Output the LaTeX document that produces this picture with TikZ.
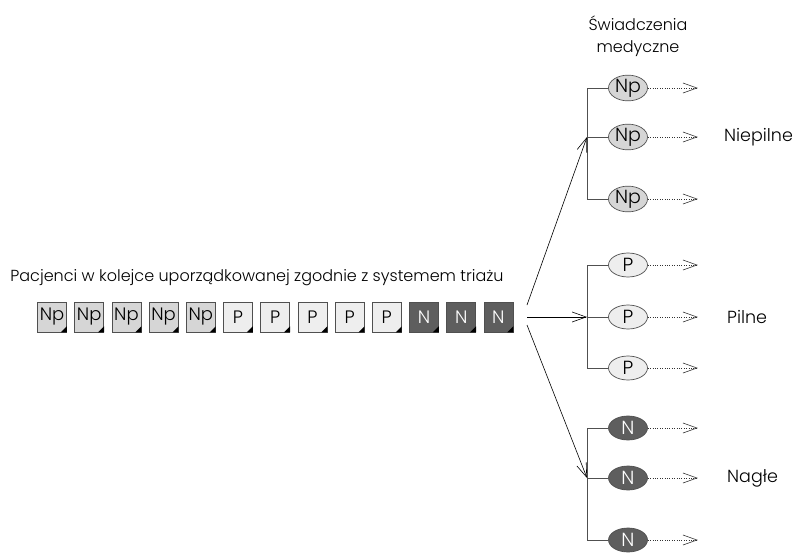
\documentclass[tikz,border=0pt]{standalone}
\usepackage{fontspec}
\setmainfont{Poppins}[UprightFont=* Light]
\usetikzlibrary{arrows.meta,calc,shapes.geometric}
\definecolor{npfill}{HTML}{D6D6D6}
\definecolor{pfill}{HTML}{EEEEEE}
\definecolor{nfill}{HTML}{5E5E5E}
\definecolor{edge}{HTML}{505050}
\tikzset{
  qbox/.style={draw=edge, line width=0.7pt, minimum width=29pt, minimum height=30pt, inner sep=0pt, font=\fontsize{18}{18}\selectfont, text=black},
  qnp/.style={qbox, fill=npfill},
  qp/.style={qbox, fill=pfill},
  qn/.style={qbox, fill=nfill, text=white},
  serv/.style={ellipse, draw=edge, line width=0.7pt, minimum width=39pt, minimum height=24pt, inner sep=0pt, font=\fontsize{19}{19}\selectfont},
  snp/.style={serv, fill=npfill},
  sp/.style={serv, fill=pfill},
  sn/.style={serv, fill=nfill, text=white},
  barb/.style={-{Straight Barb[length=14pt,width=10pt,line width=0.6pt]}},
  mainarr/.style={barb, line width=0.6pt, black},
  outarr/.style={barb, line width=0.7pt, dash pattern=on 1pt off 1.4pt, black!80},
  spine/.style={draw=edge, line width=1pt},
  lbl/.style={font=\fontsize{17.5}{20}\selectfont, inner sep=0pt},
}
\begin{document}
\begin{tikzpicture}[x=1pt,y=-1pt]
\useasboundingbox (0,0) rectangle (798,552);
% title
\node[lbl, anchor=base, font=\fontsize{16}{18}\selectfont] (title) at (257,281) {Pacjenci w kolejce uporządkowanej zgodnie z systemem triażu};
% queue
\foreach \i/\s/\t in {0/qnp/Np,1/qnp/Np,2/qnp/Np,3/qnp/Np,4/qnp/Np,5/qp/P,6/qp/P,7/qp/P,8/qp/P,9/qp/P,10/qn/N,11/qn/N,12/qn/N}{
  \node[\s] (q\i) at ({52+37.2*\i},317) {\t};
  \fill[black] ($(q\i.south east)+(-6,0)$) -- ($(q\i.south east)+(0,-6)$) -- (q\i.south east) -- cycle;
}
% services
\node[lbl, align=center, font=\fontsize{16}{22}\selectfont] (head) at (638,36) {Świadczenia\\medyczne};
\node[snp] (np1) at (628,88) {Np};
\node[snp] (np2) at (628,137) {Np};
\node[snp] (np3) at (628,199) {Np};
\node[sp] (p1) at (628,265) {P};
\node[sp] (p2) at (628,317) {P};
\node[sp] (p3) at (628,368) {P};
\node[sn] (n1) at (628,428) {N};
\node[sn] (n2) at (628,478) {N};
\node[sn] (n3) at (628,540) {N};
\coordinate (sp) at (587,0);
\foreach \a/\b/\c in {np1/np2/np3,p1/p2/p3,n1/n2/n3}{
  \draw[spine] (\a.west) -- (\a.west -| sp) -- (\c.west -| sp) -- (\c.west);
  \draw[spine] (\b.west) -- (\b.west -| sp);
}
\foreach \e in {np1,np2,np3,p1,p2,p3,n1,n2,n3}{
  \coordinate (\e o) at ($(\e.east)+(50,0)$);
  \draw[outarr] (\e.east) -- (\e o);
}
% labels
\node[lbl, anchor=west] (lnp) at (724,137) {Niepilne};
\node[lbl, anchor=west] (lp) at (727,317) {Pilne};
\node[lbl, anchor=west] (ln) at (727,478) {Nagłe};
% main arrows
\coordinate (a1) at (527,305);
\coordinate (a2) at (527,317);
\coordinate (a3) at (527,325);
\draw[mainarr] (a1) -- (np2.west -| sp);
\draw[mainarr] (a2) -- (p2.west -| sp);
\draw[mainarr] (a3) -- (n2.west -| sp);
\end{tikzpicture}
\end{document}
